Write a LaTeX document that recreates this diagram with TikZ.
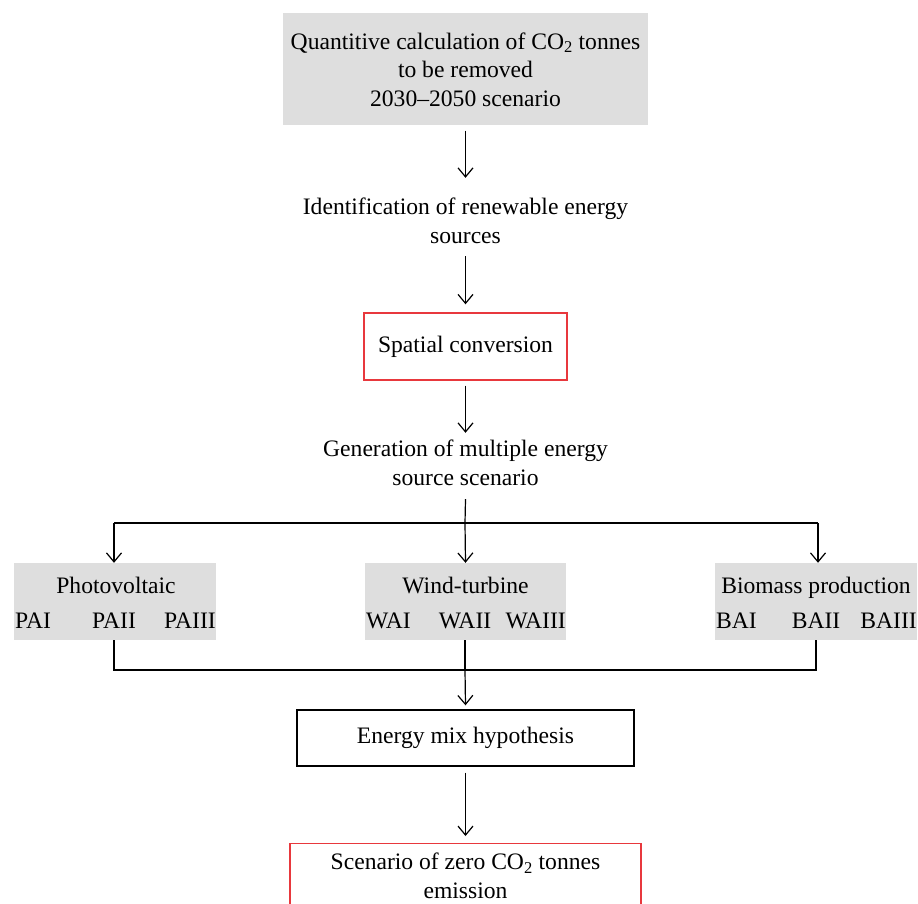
\documentclass[tikz,border=0pt]{standalone}
\usepackage{fontspec}
\setmainfont{Liberation Serif}
\usetikzlibrary{arrows.meta}
\definecolor{boxgray}{HTML}{DEDEDE}
\definecolor{boxred}{HTML}{E8383D}
\tikzset{
  every node/.style={font=\fontsize{23.6}{28.5}\selectfont, inner sep=0pt},
  flow/.style={draw=black, line width=1.2pt, -{Straight Barb[length=9pt,width=15pt,line width=1.2pt]}},
  link/.style={draw=black, line width=1.2pt},
  graybox/.style={fill=boxgray, draw=none, minimum width=#1},
  redbox/.style={draw=boxred, line width=1.4pt, fill=white},
  blackbox/.style={draw=black, line width=1.4pt, fill=white},
  label/.style={align=center, minimum height=70pt},
  title/.style={anchor=base}
}
\begin{document}
\begin{tikzpicture}[x=1pt,y=-1pt]
\useasboundingbox (0,0) rectangle (918,904);
\clip (0,0) rectangle (918,904);
% top box
\node[graybox=365pt, minimum height=112pt, align=center] (top) at (465.5,69.5) {Quantitive calculation of CO\textsubscript{2} tonnes\\to be removed\\2030--2050 scenario};
\node[label] (ident) at (465.5,221) {Identification of renewable energy\\sources};
\node[redbox, minimum width=203pt, minimum height=67pt] (spatial) at (465.5,346.5) {Spatial conversion};
\node[label] (gen) at (465.5,463) {Generation of multiple energy\\source scenario};
% three gray boxes
\node[graybox=202pt, minimum height=77pt] (pv) at (115,601.5) {};
\node[graybox=201pt, minimum height=77pt] (wt) at (465.5,601.5) {};
\node[graybox=202pt, minimum height=77pt] (bm) at (816,601.5) {};
\node[title] (pvt) at (116,593) {Photovoltaic};
\node[title] (wtt) at (465.5,593) {Wind-turbine};
\node[title] (bmt) at (816,593) {Biomass production};
\node[anchor=base west] (pa1) at (15,628) {PAI};
\node[anchor=base] (pa2) at (114,628) {PAII};
\node[anchor=base east] (pa3) at (216,628) {PAIII};
\node[anchor=base west] (wa1) at (366,628) {WAI};
\node[anchor=base] (wa2) at (465,628) {WAII};
\node[anchor=base east] (wa3) at (566,628) {WAIII};
\node[anchor=base west] (ba1) at (716,628) {BAI};
\node[anchor=base] (ba2) at (816,628) {BAII};
\node[anchor=base east] (ba3) at (917,628) {BAIII};
% energy mix
\node[blackbox, minimum width=337pt, minimum height=56pt] (mix) at (465.5,738) {Energy mix hypothesis};
\node[redbox, minimum width=351pt, minimum height=80pt, anchor=north] (zero) at (465.5,843) {};
\node[align=center] (zerot) at (465.5,876) {Scenario of zero CO\textsubscript{2} tonnes\\emission};
% connectors
\draw[flow] ([yshift=-5pt]top.south) -- ([yshift=8pt]ident.north);
\draw[flow] (ident.south) -- ([yshift=8pt]spatial.north);
\draw[flow] ([yshift=-5pt]spatial.south) -- ([yshift=-5pt]gen.north);
\coordinate (gsplit) at (465,523);
\coordinate (gl) at (114,523);
\coordinate (gr) at (818,523);
\draw[link] ([yshift=-1pt]gen.south) -- (gsplit);
\draw[flow] (gsplit) -- (wt.north);
\draw[link] (gl) -- (gr);
\draw[flow] (gl) -- (gl |- pv.north);
\draw[flow] (gr) -- (gr |- bm.north);
\coordinate (jl) at (114,670);
\coordinate (jm) at (465,670);
\coordinate (jr) at (816,670);
\draw[link] (jl |- pv.south) -- (jl) -- (jr) -- (jr |- bm.south);
\draw[link] (jm |- wt.south) -- (jm);
\draw[flow] (jm) -- ([yshift=4pt]mix.north);
\draw[flow] ([yshift=-6pt]mix.south) -- ([yshift=7pt]zero.north);
\end{tikzpicture}
\end{document}
